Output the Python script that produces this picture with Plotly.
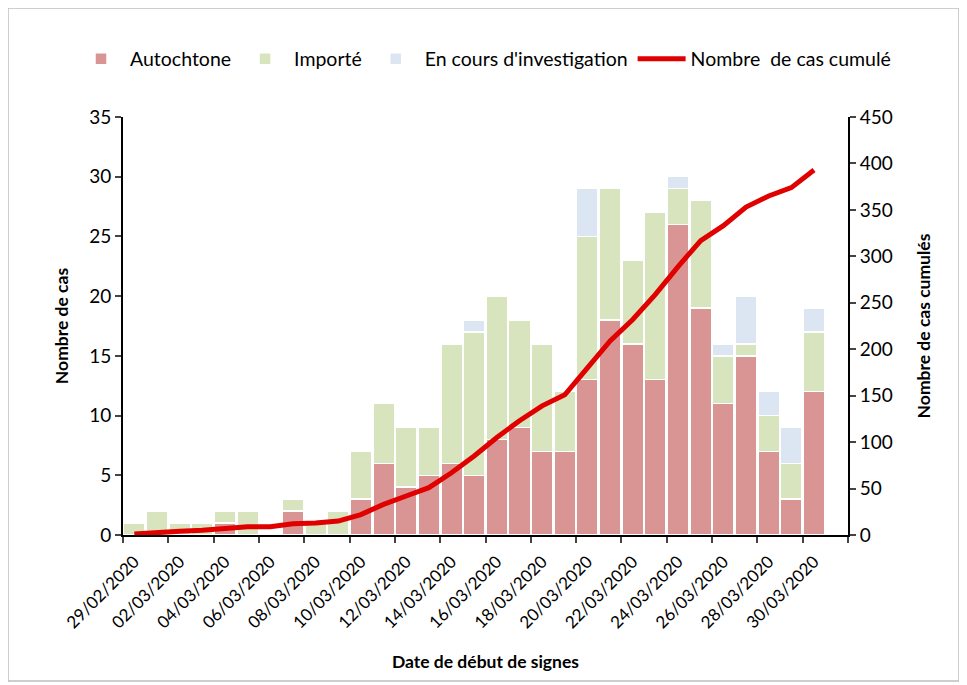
import plotly.graph_objects as go

dates = ["29/02/2020", "01/03/2020", "02/03/2020", "03/03/2020", "04/03/2020", "05/03/2020",
         "06/03/2020", "07/03/2020", "08/03/2020", "09/03/2020", "10/03/2020", "11/03/2020",
         "12/03/2020", "13/03/2020", "14/03/2020", "15/03/2020", "16/03/2020", "17/03/2020",
         "18/03/2020", "19/03/2020", "20/03/2020", "21/03/2020", "22/03/2020", "23/03/2020",
         "24/03/2020", "25/03/2020", "26/03/2020", "27/03/2020", "28/03/2020", "29/03/2020",
         "30/03/2020", "31/03/2020"]
data_dates = dates[:31]

autochtone = [0, 0, 0, 0, 1, 0, 0, 2, 0, 0, 3, 6, 4, 5, 6, 5, 8, 9, 7, 7, 13, 18, 16, 13, 26, 19, 11, 15, 7, 3, 12]
importe = [1, 2, 1, 1, 1, 2, 0, 1, 1, 2, 4, 5, 5, 4, 10, 12, 12, 9, 9, 5, 12, 11, 7, 14, 3, 9, 4, 1, 3, 3, 5]
investigation = [0, 0, 0, 0, 0, 0, 0, 0, 0, 0, 0, 0, 0, 0, 0, 1, 0, 0, 0, 0, 4, 0, 0, 0, 1, 0, 1, 4, 2, 3, 2]
cumul = [1, 3, 4, 5, 7, 9, 9, 12, 13, 15, 22, 33, 42, 51, 67, 85, 105, 123, 139, 151, 180, 209, 232, 259,
         289, 317, 333, 353, 365, 374, 393]

FONT = "Lato"
OFF = 8  # default body margin of the page
W, H = 967 - OFF, 685 - OFF
ML, MT = 123 - OFF, 117 - OFF
pw, ph = 725, 418
MR = W - ML - pw
MB = H - MT - ph


def px_x(x):
    return (x - OFF - ML) / pw


def px_y(y):
    return (MT + ph - (y - OFF)) / ph


fig = go.Figure()
bar_line = dict(color="white", width=1.5)
fig.add_trace(go.Bar(x=data_dates, y=autochtone, name="Autochtone",
                     marker=dict(color="#D99594", line=bar_line)))
fig.add_trace(go.Bar(x=data_dates, y=importe, name="Importé",
                     marker=dict(color="#D7E4BD", line=bar_line)))
fig.add_trace(go.Bar(x=data_dates, y=investigation, name="En cours d'investigation",
                     marker=dict(color="#DCE6F2", line=bar_line)))
fig.add_trace(go.Scatter(x=data_dates, y=cumul, name="Nombre  de cas cumulé", yaxis="y2",
                         mode="lines", line=dict(color="#E00000", width=5)))

fig.update_layout(
    width=W, height=H,
    margin=dict(l=ML, r=MR, t=MT, b=MB, autoexpand=False),
    paper_bgcolor="white", plot_bgcolor="white",
    barmode="stack", bargap=0.05,
    font=dict(family=FONT, size=17, color="black"),
    legend=dict(orientation="h", x=px_x(72), xanchor="left", y=px_y(59), yanchor="middle",
                font=dict(family=FONT, size=19.5), itemwidth=48, traceorder="normal",
                tracegroupgap=0),
    xaxis=dict(type="category", categoryorder="array", categoryarray=dates,
               range=[-0.5, 31.5], tickmode="linear", tick0=0, dtick=2,
               tickson="boundaries", ticks="outside", ticklen=6, tickwidth=2,
               ticklabelstandoff=8,
               tickangle=-45, showline=True, linecolor="black", linewidth=2,
               showgrid=False, tickfont=dict(size=17),
               title=dict(text="<b>Date de début de signes</b>", font=dict(size=17.5), standoff=24)),
    yaxis=dict(range=[0, 35], dtick=5, ticks="outside", ticklen=6, tickwidth=2,
               showline=True, linecolor="black", linewidth=2, showgrid=False, zeroline=False,
               tickfont=dict(size=19),
               title=dict(text="<b>Nombre de cas</b>", font=dict(size=17.5), standoff=16)),
    yaxis2=dict(range=[0, 450], dtick=50, overlaying="y", side="right",
                ticks="outside", ticklen=6, tickwidth=2,
                showline=True, linecolor="black", linewidth=2, showgrid=False, zeroline=False,
                tickfont=dict(size=19),
                title=dict(text="<b>Nombre de cas cumulés</b>", font=dict(size=17.5), standoff=26)),
    shapes=[dict(type="rect", xref="paper", yref="paper",
                 x0=px_x(8), x1=px_x(959), y0=px_y(681), y1=px_y(8),
                 line=dict(color="#BFBFBF", width=1.5), fillcolor="rgba(0,0,0,0)", layer="below")],
)

fig.write_html("out.html")
